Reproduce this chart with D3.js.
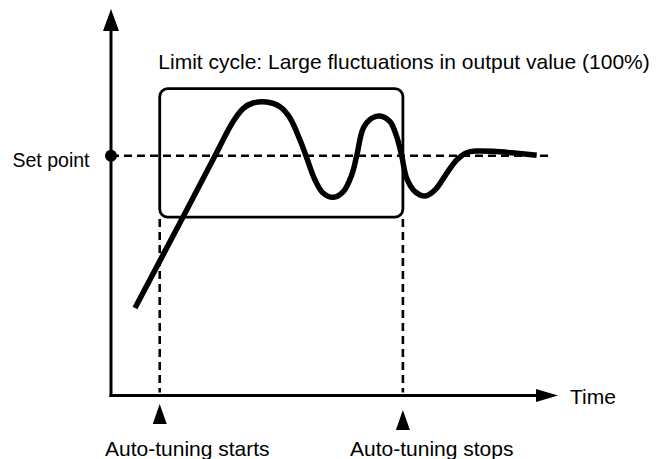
<!DOCTYPE html>
<html>
<head>
<meta charset="utf-8">
<script src="https://cdn.jsdelivr.net/npm/d3@7"></script>
<style>
  html, body { margin: 0; padding: 0; background: #fff; }
  svg { display: block; }
  text { font-family: "Liberation Sans", Arial, Helvetica, sans-serif; fill: #000; }
</style>
</head>
<body>
<svg id="chart" width="658" height="459"></svg>
<script>
// Process value over time during auto-tuning (set point = 100)
const time  = [5.37, 16.11, 23.27, 27.29, 29.60, 31.77, 34.83, 37.81, 40.04, 42.28, 43.62, 45.64, 47.43, 49.73, 51.97, 53.85, 54.97, 56.44, 58.32, 60.18, 62.42, 63.91, 65.03, 66.15, 68.01, 70.25, 72.48, 75.10, 77.34, 79.57, 81.81, 85.53, 90.76, 95.23];
const value = [36.49, 74.44, 100, 114.18, 119.77, 121.98, 122.39, 120.43, 115.72, 106.55, 100, 89.87, 84.45, 82.65, 84.99, 91.95, 100, 111.43, 115.60, 116.56, 114.18, 107.92, 100, 90.58, 84.99, 83.19, 85.70, 92.66, 98.21, 101.25, 101.96, 101.83, 101.00, 100.17];

const setPoint = 100;
const setPointEnd = 98.7;          // time where the set point reference line stops
const tuneStart = 10.9;            // auto-tuning starts
const tuneStop = 65.3;             // auto-tuning stops
const cycleHigh = 128.0;           // limit-cycle band, upper edge
const cycleLow = 74.4;             // limit-cycle band, lower edge

const labels = {
  setPoint: "Set point",
  cycle: "Limit cycle: Large fluctuations in output value (100%)",
  start: "Auto-tuning starts",
  stop: "Auto-tuning stops",
  time: "Time"
};

const svg = d3.select("#chart");

const x = d3.scaleLinear().domain([0, 100]).range([111, 558]);
const y = d3.scaleLinear().domain([0, 100]).range([395.5, 155.7]);

// Axes (no ticks, just the arrowed lines)
const xAxis = svg.append("g")
  .attr("transform", `translate(0,${y(0)})`)
  .call(d3.axisBottom(x).tickValues([]).tickSizeOuter(0));
xAxis.select(".domain").attr("stroke", "#000").attr("stroke-width", 3)
  .attr("d", `M${x(0) - 1.5},0H${x(100) - 20}`);

const yAxis = svg.append("g")
  .attr("transform", `translate(${x(0)},0)`)
  .call(d3.axisLeft(y).tickValues([]).tickSizeOuter(0));
yAxis.select(".domain").attr("stroke", "#000").attr("stroke-width", 3)
  .attr("d", `M0,${y(0) + 1.5}V29`);

// Arrow heads
svg.append("path")
  .attr("d", `M${x(100)},${y(0)} L${x(100) - 22},${y(0) - 6.5} L${x(100) - 22},${y(0) + 6.5} Z`)
  .attr("fill", "#000");
svg.append("path")
  .attr("d", `M${x(0)},9 L${x(0) - 8},31 L${x(0) + 8},31 Z`)
  .attr("fill", "#000");

// Limit-cycle box
svg.append("rect")
  .attr("x", x(tuneStart)).attr("y", y(cycleHigh))
  .attr("width", x(tuneStop) - x(tuneStart))
  .attr("height", y(cycleLow) - y(cycleHigh))
  .attr("rx", 8).attr("ry", 8)
  .attr("fill", "none").attr("stroke", "#000").attr("stroke-width", 2.8);

// Set point reference
svg.append("line")
  .attr("x1", x(0)).attr("x2", x(setPointEnd))
  .attr("y1", y(setPoint)).attr("y2", y(setPoint))
  .attr("stroke", "#000").attr("stroke-width", 2.6)
  .attr("stroke-dasharray", "8,5");

// Vertical markers for start and stop of tuning
[tuneStart, tuneStop].forEach(t => {
  svg.append("line")
    .attr("x1", x(t)).attr("x2", x(t))
    .attr("y1", y(cycleLow) + 2).attr("y2", y(0) - 3)
    .attr("stroke", "#000").attr("stroke-width", 2.6)
    .attr("stroke-dasharray", "8,5");
});

// Process value curve
const line = d3.line()
  .x((d, i) => x(time[i]))
  .y(d => y(d))
  .curve(d3.curveCatmullRom.alpha(0.5));
svg.append("path")
  .attr("d", line(value))
  .attr("fill", "none").attr("stroke", "#000")
  .attr("stroke-width", 5.5).attr("stroke-linecap", "butt")
  .attr("stroke-linejoin", "round");

// Set point dot
svg.append("circle")
  .attr("cx", x(0)).attr("cy", y(setPoint)).attr("r", 6)
  .attr("fill", "#000");

// Triangle markers under the time axis
const tri = (cx, top) => `M${cx},${top} L${cx - 7},${top + 20} L${cx + 7},${top + 20} Z`;
svg.append("path").attr("d", tri(x(tuneStart), 404)).attr("fill", "#000");
svg.append("path").attr("d", tri(x(tuneStop), 410)).attr("fill", "#000");

// Texts
svg.append("text").attr("x", 89.5).attr("y", 166.5)
  .attr("text-anchor", "end").attr("font-size", 19.5).text(labels.setPoint);
svg.append("text").attr("x", 158.3).attr("y", 69)
  .attr("font-size", 21).text(labels.cycle);
svg.append("text").attr("x", 105).attr("y", 456)
  .attr("font-size", 21).text(labels.start);
svg.append("text").attr("x", 350).attr("y", 456)
  .attr("font-size", 21).text(labels.stop);
svg.append("text").attr("x", 570).attr("y", 403.5)
  .attr("font-size", 21).text(labels.time);
</script>
</body>
</html>
